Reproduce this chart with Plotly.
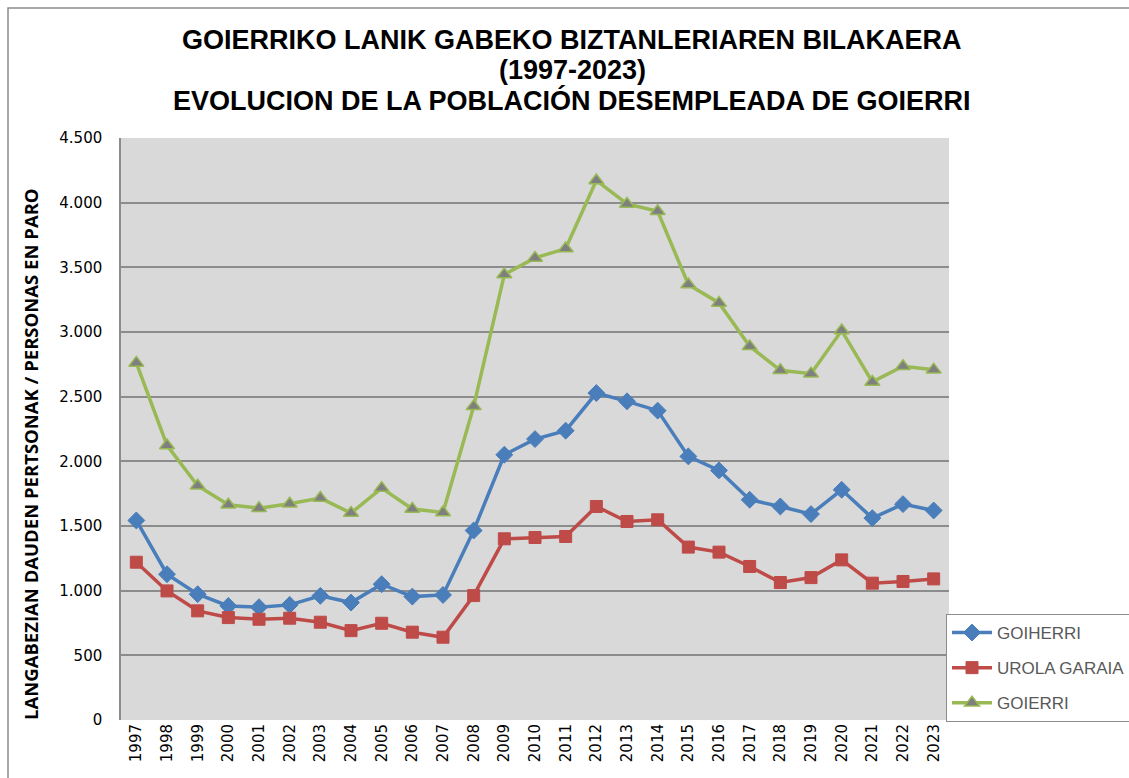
import plotly.graph_objects as go

years = [str(y) for y in range(1997, 2024)]

goiherri = [1543, 1127, 973, 882, 872, 890, 960, 908, 1050, 954, 967, 1465,
            2051, 2172, 2237, 2528, 2464, 2392, 2038, 1930, 1703, 1651, 1592,
            1780, 1561, 1669, 1620]
urola_garaia = [1220, 998, 844, 792, 779, 787, 756, 691, 748, 679, 640, 962,
                1401, 1411, 1419, 1651, 1535, 1548, 1337, 1298, 1187, 1063,
                1101, 1238, 1058, 1071, 1091]
goierri = [2761, 2123, 1811, 1664, 1638, 1672, 1716, 1600, 1793, 1631, 1605,
           2425, 3444, 3573, 3645, 4172, 3990, 3934, 3367, 3225, 2889, 2704,
           2678, 3011, 2614, 2735, 2709]

y_ticks = [0, 500, 1000, 1500, 2000, 2500, 3000, 3500, 4000, 4500]

title_lines = ["GOIERRIKO LANIK GABEKO BIZTANLERIAREN BILAKAERA",
               "(1997-2023)",
               "EVOLUCION DE LA POBLACIÓN DESEMPLEADA DE GOIERRI"]

# plot area in pixels: x 121..949, y 138..720
L, R, T, B = 121, 949, 138, 720
W, H = R - L, B - T


def px_x(x):
    return (x - L) / W


def px_y(y):
    return (B - y) / H


fig = go.Figure()
fig.add_trace(go.Scatter(
    x=years, y=goiherri, name="GOIHERRI", mode="lines+markers",
    legendgroup="a",
    line=dict(color="#4a7ebb", width=3.5),
    marker=dict(symbol="diamond", size=13, color="#4a7ebb",
                line=dict(color="#4a7ebb", width=1))))
fig.add_trace(go.Scatter(
    x=years, y=urola_garaia, name="UROLA GARAIA", mode="lines+markers",
    legendgroup="b",
    line=dict(color="#be4b48", width=3.5),
    marker=dict(symbol="square", size=12, color="#be4b48",
                line=dict(color="#be4b48", width=1))))
fig.add_trace(go.Scatter(
    x=years, y=goierri, name="GOIERRI", mode="lines+markers",
    legendgroup="c",
    line=dict(color="#98b954", width=3.5),
    marker=dict(symbol="triangle-up", size=13, color="#7f7f7f",
                line=dict(color="#98b954", width=1.5))))

annotations = [dict(
    text=line, xref="paper", yref="paper", x=px_x(572), y=px_y(yc),
    xanchor="center", yanchor="middle", showarrow=False,
    font=dict(family="Liberation Sans Narrow, Arial Narrow, Liberation Sans, sans-serif",
              size=27, color="black", weight="bold"))
    for line, yc in zip(title_lines, [40, 70, 100])]

annotations.append(dict(
    text="LANGABEZIAN DAUDEN PERTSONAK / PERSONAS EN PARO",
    xref="paper", yref="paper", x=px_x(30), y=px_y(454),
    xanchor="center", yanchor="middle", textangle=-90, showarrow=False,
    font=dict(family="Open Sans, Lato, sans-serif", size=18.5, color="black", weight="bold")))

fig.update_layout(
    width=1129, height=778,
    margin=dict(l=L, r=1129 - R, t=T, b=778 - B, autoexpand=False),
    paper_bgcolor="white",
    plot_bgcolor="#d9d9d9",
    separators=",.",
    showlegend=True,
    legend=dict(
        x=px_x(946), y=px_y(614),
        xanchor="left", yanchor="top",
        bgcolor="white", bordercolor="#8c8c8c", borderwidth=1,
        font=dict(family="Liberation Sans, Arial, sans-serif", size=17, color="#595959"),
        tracegroupgap=10, itemwidth=40),
    xaxis=dict(
        type="category", tickangle=-90, range=[-0.5, 26.5],
        tickfont=dict(family="DejaVu Sans, Verdana, sans-serif", size=15, color="black"),
        showgrid=False, showline=False, ticks="", zeroline=False),
    yaxis=dict(
        range=[0, 4500], tickvals=y_ticks, tickformat=",d",
        tickfont=dict(family="DejaVu Sans, Verdana, sans-serif", size=15, color="black"),
        showgrid=True, gridcolor="#8c8c8c", gridwidth=1.5,
        showline=True, linecolor="#8c8c8c", linewidth=1.5,
        ticks="outside", ticklen=14, tickcolor="rgba(0,0,0,0)",
        zeroline=False),
    shapes=[dict(type="rect", xref="paper", yref="paper",
                 x0=px_x(8), x1=1.3, y0=-0.3, y1=px_y(8),
                 line=dict(color="#8c8c8c", width=1.5), layer="below")],
    annotations=annotations,
)

fig.write_html("out.html")
